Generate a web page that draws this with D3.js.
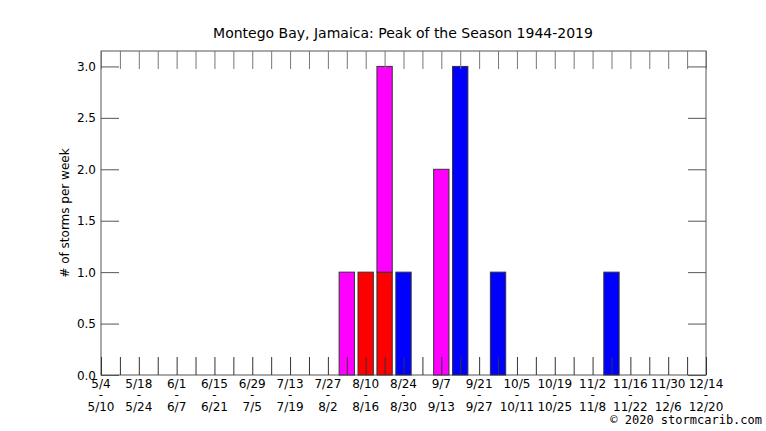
<!doctype html>
<html lang="en">
<head>
  <meta charset="utf-8">
  <title>Montego Bay, Jamaica: Peak of the Season 1944-2019</title>
  <script type="text/javascript" src="https://cdnjs.cloudflare.com/ajax/libs/d3/7.8.5/d3.min.js"></script>
  <style>
    body { margin: 0; background: #fff; }
    text { font-family: 'DejaVu Sans', sans-serif; fill: #000; }
  </style>
</head>
<body>
	<svg width="766" height="431" id="svg"></svg>
</body>

<script type="text/javascript">

	// week labels (every other week is labelled)
	var startLabels = ['5/4','5/18','6/1','6/15','6/29','7/13','7/27','8/10','8/24','9/7','9/21','10/5','10/19','11/2','11/16','11/30','12/14'];
	var endLabels = ['5/10','5/24','6/7','6/21','7/5','7/19','8/2','8/16','8/30','9/13','9/27','10/11','10/25','11/8','11/22','12/6','12/20'];

	// storms per week, one value per week starting 5/4 (32 weeks)
	var redSeries     = [0,0,0,0,0,0,0,0,0,0,0,0,0,0,1,1,0,0,0,0,0,0,0,0,0,0,0,0,0,0,0,0];
	var magentaSeries = [0,0,0,0,0,0,0,0,0,0,0,0,0,1,0,2,0,0,2,0,0,0,0,0,0,0,0,0,0,0,0,0];
	var blueSeries    = [0,0,0,0,0,0,0,0,0,0,0,0,0,0,0,0,1,0,0,3,0,1,0,0,0,0,0,1,0,0,0,0];

	var yTicks = [0,0.5,1,1.5,2,2.5,3];

	var pLeft = 101, pRight = 706, pTop = 51, pBottom = 375;
	var tickLen = 18;

	var svg = d3.select('#svg');

	var x = d3.scaleLinear()
				.domain([0, redSeries.length])
				.range([pLeft, pRight]);

	var y = d3.scaleLinear()
				.domain([0, 3.15])
				.range([pBottom, pTop]);

	var weeks = d3.range(redSeries.length + 1);
	var step = x(1) - x(0);
	var barW = step * 0.81;

	var rows = redSeries.map(function(d,i) {
		return {week: i, red: d, magenta: magentaSeries[i], blue: blueSeries[i]};
	});

	var stacked = d3.stack().keys(['red','magenta','blue'])(rows);
	var colors = {red: '#ff0000', magenta: '#ff00ff', blue: '#0000ff'};

	// frame
	svg.append('rect')
		.attr('x', pLeft)
		.attr('y', pTop)
		.attr('width', pRight - pLeft)
		.attr('height', pBottom - pTop)
		.attr('fill', 'none')
		.attr('stroke', '#555');

	// bars
	svg.selectAll('.layer')
		.data(stacked)
		.enter()
		.append('g')
		.attr('class','layer')
		.attr('fill', function(d) { return colors[d.key]; })
		.selectAll('rect')
		.data(function(d) { return d.filter(function(p) { return p[1] > p[0]; }); })
		.enter()
		.append('rect')
		.attr('x', function(d) { return x(d.data.week) - barW/2; })
		.attr('y', function(d) { return y(d[1]); })
		.attr('width', barW)
		.attr('height', function(d) { return y(d[0]) - y(d[1]); })
		.attr('stroke', '#333')
		.attr('stroke-width', 1);

	// week ticks, bottom (pointing up) and top (pointing down)
	svg.append('g')
		.attr('transform','translate(0,'+pBottom+')')
		.call(d3.axisTop(x).tickValues(weeks).tickSize(tickLen).tickFormat(''))
		.call(function(g) { g.select('.domain').remove(); g.selectAll('line').attr('stroke','#333'); });

	svg.append('g')
		.attr('transform','translate(0,'+pTop+')')
		.call(d3.axisBottom(x).tickValues(weeks).tickSize(tickLen).tickFormat(''))
		.call(function(g) { g.select('.domain').remove(); g.selectAll('line').attr('stroke','#777'); });

	// y ticks, left and right
	svg.append('g')
		.attr('transform','translate('+pLeft+',0)')
		.call(d3.axisRight(y).tickValues(yTicks).tickSize(tickLen).tickFormat(''))
		.call(function(g) { g.select('.domain').remove(); g.selectAll('line').attr('stroke','#555'); });

	svg.append('g')
		.attr('transform','translate('+pRight+',0)')
		.call(d3.axisLeft(y).tickValues(yTicks).tickSize(tickLen).tickFormat(''))
		.call(function(g) { g.select('.domain').remove(); g.selectAll('line').attr('stroke','#555'); });

	// y tick labels
	svg.selectAll('.ylab')
		.data(yTicks)
		.enter()
		.append('text')
		.attr('class','ylab')
		.attr('x', pLeft - 5)
		.attr('y', function(d) { return y(d) + 4.5; })
		.attr('text-anchor','end')
		.style('font-size','12px')
		.text(function(d) { return d3.format('.1f')(d); });

	// x tick labels: start / - / end, one text per tick
	var xl = svg.selectAll('.xlab')
		.data(startLabels)
		.enter()
		.append('text')
		.attr('class','xlab')
		.attr('text-anchor','middle')
		.style('font-size','12px');

	xl.append('tspan')
		.attr('x', function(d,i) { return x(i*2); })
		.attr('y', 388)
		.text(function(d) { return d; });

	xl.append('tspan')
		.attr('x', function(d,i) { return x(i*2); })
		.attr('y', 399)
		.text('-');

	xl.append('tspan')
		.attr('x', function(d,i) { return x(i*2); })
		.attr('y', 411)
		.text(function(d,i) { return endLabels[i]; });

	// y axis title
	svg.append('text')
		.attr('transform','translate(69,' + ((pTop + pBottom)/2) + ') rotate(-90)')
		.attr('text-anchor','middle')
		.style('font-size','12px')
		.text('# of storms per week');

	// title
	svg.append('text')
		.attr('x', 403)
		.attr('y', 38)
		.attr('text-anchor','middle')
		.style('font-size','14px')
		.text('Montego Bay, Jamaica: Peak of the Season 1944-2019');

	svg.append('text')
		.attr('x', 762)
		.attr('y', 424)
		.attr('text-anchor','end')
		.style('font-family','"DejaVu Sans Mono", monospace')
		.style('font-size','12px')
		.text('\u00a9 2020 stormcarib.com');

</script>
</html>
